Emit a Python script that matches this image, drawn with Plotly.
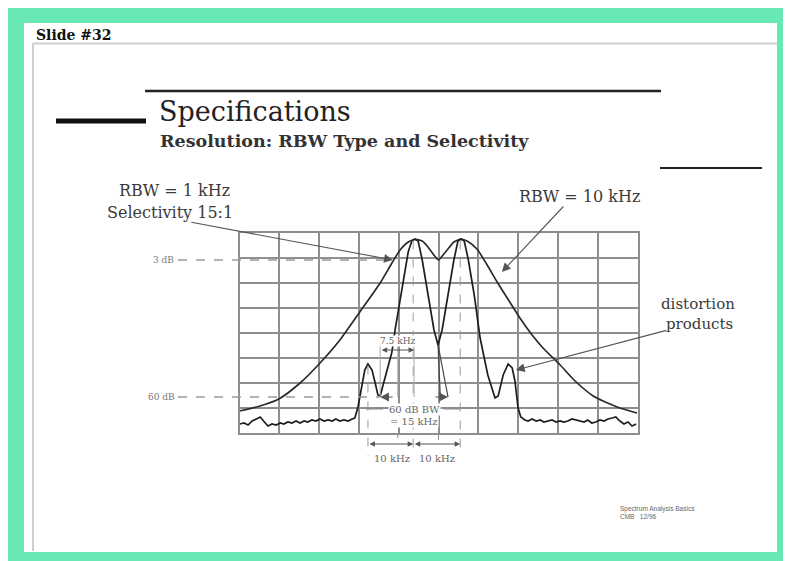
import plotly.graph_objects as go

# The page body adds an 8 px margin, so the figure is drawn 8 px in from the window edge.
OFF = 8
W, H = 791 - OFF, 561 - OFF
SERIF = "DejaVu Serif"

# ---------------- data (frequency offset in kHz, level in dB rel. reference) ----------------
XR = [-44, 44]
YR = [-80, 0]
GRID_DX = 8.8
GRID_DY = 10

# RBW = 10 kHz trace (two signals 10 kHz apart, barely resolved)
wide_khz = [-44.0, -39.5, -35.3, -30.6, -26.4, -21.8, -17.4, -12.9, -10.3, -8.5,
            -7.0, -5.2, -3.6, -2.5, -1.2, 0.0, 1.0, 2.1, 3.4, 5.0, 6.5, 8.5, 10.7, 12.9, 15.4,
            18.0, 20.7, 23.1, 26.9, 30.2, 34.2, 36.4, 40.1, 43.9]
wide_db = [-71.2, -69.2, -66.4, -60.0, -52.4, -42.8, -31.6, -20.0, -12.0, -6.8,
           -4.0, -2.5, -3.2, -5.2, -8.4, -10.8, -8.8, -6.4, -3.6, -2.4, -3.4, -6.4, -12.6, -19.4,
           -26.6, -34.0, -40.8, -46.0, -52.8, -59.2, -65.2, -67.2, -70.0, -72.0]

# RBW = 1 kHz trace: left noise floor, signals with distortion products, right noise floor
floor_left_khz = [-43.9, -43.0, -42.1, -41.2, -40.3, -39.4, -38.5, -37.7, -36.8, -35.9, -35.0,
                  -34.2, -33.3, -32.4, -31.5, -30.6, -29.7, -28.9, -28.0, -27.1, -26.2, -25.3,
                  -24.4, -23.5, -22.7, -21.8, -20.9, -20.0, -19.1]
floor_left_db = [-76.4, -76.0, -76.8, -75.2, -74.4, -73.6, -75.6, -77.2, -76.4, -76.8, -76.0,
                 -76.4, -75.6, -76.0, -75.2, -76.0, -75.2, -75.6, -74.8, -75.2, -74.4, -75.2,
                 -74.8, -75.2, -74.4, -75.2, -74.8, -75.2, -74.4]
signal_khz = [-18.5, -17.8, -17.4, -16.9, -16.3, -15.6, -14.7, -14.0, -13.4, -12.9, -11.8, -10.3,
              -9.6, -8.1, -6.7, -5.9, -5.2, -4.5, -3.6, -2.3, -1.0, -0.1, 0.8, 2.1, 3.4, 4.3, 5.0,
              5.7, 6.6, 7.9, 9.2, 10.9, 12.5, 13.2, 14.3, 15.4, 16.3, 16.9, 17.6, 18.2, 19.1]
signal_db = [-74.0, -69.6, -65.6, -61.6, -54.8, -52.4, -54.8, -60.0, -64.8, -65.2, -58.0, -47.6,
             -38.8, -22.8, -7.6, -3.2, -2.4, -3.2, -10.8, -24.8, -38.8, -44.8, -38.8, -24.8, -10.8,
             -3.2, -2.4, -3.2, -10.8, -24.8, -42.0, -56.8, -66.0, -65.2, -56.8, -52.4, -54.0,
             -59.2, -70.0, -73.6, -74.8]
floor_right_khz = [19.8, 20.7, 21.6, 22.5, 23.3, 24.2, 25.1, 26.0, 26.9, 27.7, 28.6, 29.5, 30.4,
                   31.3, 32.2, 33.0, 33.9, 34.8, 35.7, 36.6, 37.5, 38.4, 39.2, 40.1, 41.0, 41.9,
                   42.8, 43.7]
floor_right_db = [-75.2, -74.4, -75.2, -74.8, -75.6, -75.2, -74.8, -75.6, -75.2, -75.6, -75.2,
                  -74.4, -74.8, -75.2, -75.6, -74.8, -76.0, -75.6, -74.8, -75.2, -74.4, -74.0,
                  -73.6, -75.2, -76.4, -75.6, -77.2, -76.4]

narrow_khz = floor_left_khz + signal_khz + floor_right_khz
narrow_db = floor_left_db + signal_db + floor_right_db

# dimension / marker values (kHz, dB)
LEVEL_3DB = -10.8
LEVEL_60DB = -65.6
BW60_LEFT, BW60_RIGHT = -12.9, 2.1          # 60 dB BW = 15 kHz
BW3_LEFT, BW3_RIGHT = -12.9, -5.4           # 7.5 kHz
SIG_MARKS = [-15.6, -5.6, 4.8]              # 10 kHz spacing marks

# ---------------- geometry helpers ----------------
XD = [(239.5 - OFF) / W, (637.5 - OFF) / W]
YD = [1 - (433.0 - OFF) / H, 1 - (233.0 - OFF) / H]


def fx(v):
    return XD[0] + (v - XR[0]) / (XR[1] - XR[0]) * (XD[1] - XD[0])


def fy(v):
    return YD[0] + (v - YR[0]) / (YR[1] - YR[0]) * (YD[1] - YD[0])


def ppx(p):
    return (p - OFF) / W


def ppy(p):
    return 1 - (p - OFF) / H


def py2db(p):
    return YR[1] - (p - 233.0) / 200.0 * (YR[1] - YR[0])


fig = go.Figure()
fig.add_trace(go.Scatter(x=wide_khz, y=wide_db, mode="lines",
                         line=dict(color="#2a2a2a", width=1.7, shape="spline", smoothing=0.6),
                         hoverinfo="skip", showlegend=False))
fig.add_trace(go.Scatter(x=narrow_khz, y=narrow_db, mode="lines",
                         line=dict(color="#1e1e1e", width=1.7),
                         hoverinfo="skip", showlegend=False))

shapes = []
GREEN = "#67E8B4"
# slide frame
shapes.append(dict(type="rect", xref="paper", yref="paper", x0=0.0, x1=1.0, y0=0.0, y1=1.0,
                   fillcolor=GREEN, line=dict(width=0), layer="below"))
shapes.append(dict(type="rect", xref="paper", yref="paper", x0=ppx(24), x1=ppx(777), y0=ppy(552), y1=ppy(23),
                   fillcolor="white", line=dict(width=0), layer="below"))
shapes.append(dict(type="line", xref="paper", yref="paper", x0=ppx(33), x1=ppx(777), y0=ppy(43.5), y1=ppy(43.5),
                   line=dict(color="#d0d0d0", width=2)))
shapes.append(dict(type="line", xref="paper", yref="paper", x0=ppx(33), x1=ppx(33), y0=ppy(43), y1=ppy(551),
                   line=dict(color="#d0d0d0", width=2)))
# title rules
shapes.append(dict(type="line", xref="paper", yref="paper", x0=ppx(145), x1=ppx(661), y0=ppy(91), y1=ppy(91),
                   line=dict(color="#222", width=2.5)))
shapes.append(dict(type="line", xref="paper", yref="paper", x0=ppx(56), x1=ppx(146), y0=ppy(121), y1=ppy(121),
                   line=dict(color="#111", width=5)))
shapes.append(dict(type="line", xref="paper", yref="paper", x0=ppx(660), x1=ppx(762), y0=ppy(168), y1=ppy(168),
                   line=dict(color="#222", width=2)))

DASH_C = "#9a9a9a"
# 3 dB and 60 dB reference dashed lines
shapes.append(dict(type="line", xref="paper", yref="paper", x0=ppx(178), x1=fx(-10.3), y0=fy(LEVEL_3DB),
                   y1=fy(LEVEL_3DB), line=dict(color=DASH_C, width=1.3, dash="dash")))
shapes.append(dict(type="line", xref="paper", yref="paper", x0=ppx(178), x1=fx(BW60_LEFT), y0=fy(LEVEL_60DB),
                   y1=fy(LEVEL_60DB), line=dict(color=DASH_C, width=1.3, dash="dash")))
# vertical dashed marker lines
shapes.append(dict(type="line", xref="paper", yref="paper", x0=fx(SIG_MARKS[0]), x1=fx(SIG_MARKS[0]),
                   y0=fy(-53.0), y1=ppy(456), line=dict(color=DASH_C, width=1, dash="dash")))
shapes.append(dict(type="line", xref="paper", yref="paper", x0=fx(SIG_MARKS[1]), x1=fx(SIG_MARKS[1]),
                   y0=fy(-3.0), y1=ppy(456), line=dict(color=DASH_C, width=1, dash="dash")))
shapes.append(dict(type="line", xref="paper", yref="paper", x0=fx(SIG_MARKS[2]), x1=fx(SIG_MARKS[2]),
                   y0=fy(-3.0), y1=ppy(456), line=dict(color=DASH_C, width=1, dash="dash")))
shapes.append(dict(type="line", xref="paper", yref="paper", x0=fx(0.0), x1=fx(0.0),
                   y0=fy(-45.0), y1=ppy(440), line=dict(color=DASH_C, width=1, dash="dash")))
# 7.5 kHz extension lines
for xv in (BW3_LEFT, BW3_RIGHT, -9.0):
    shapes.append(dict(type="line", xref="paper", yref="paper", x0=fx(xv), x1=fx(xv),
                       y0=fy(-44.0), y1=fy(LEVEL_60DB), line=dict(color="#aaaaaa", width=1)))
# hidden skirts down to the 60 dB level
shapes.append(dict(type="line", xref="paper", yref="paper", x0=fx(-0.1), x1=fx(0.4),
                   y0=fy(-44.8), y1=fy(LEVEL_60DB), line=dict(color="#444", width=1.2)))
shapes.append(dict(type="line", xref="paper", yref="paper", x0=fx(-0.1), x1=fx(BW60_RIGHT),
                   y0=fy(-44.8), y1=fy(LEVEL_60DB), line=dict(color="#444", width=1.2)))
# 60 dB BW text line
shapes.append(dict(type="line", xref="paper", yref="paper", x0=ppx(366), x1=ppx(383), y0=ppy(409), y1=ppy(409),
                   line=dict(color="#888", width=1)))
shapes.append(dict(type="line", xref="paper", yref="paper", x0=ppx(444), x1=ppx(460), y0=ppy(409), y1=ppy(409),
                   line=dict(color="#888", width=1)))
# small ticks under grid
for xv in (-9.0, 0.0):
    shapes.append(dict(type="line", xref="paper", yref="paper", x0=fx(xv), x1=fx(xv), y0=ppy(433), y1=ppy(438),
                       line=dict(color="#888", width=1)))

ann = []


def text(s, x, y, size, xanchor="left", color="#3a3a3a", bold=False, family=SERIF, bg=None):
    d = dict(text=("<b>%s</b>" % s) if bold else s, x=ppx(x), y=ppy(y), xref="paper", yref="paper",
             xanchor=xanchor, yanchor="middle", showarrow=False,
             font=dict(family=family, size=size, color=color))
    if bg:
        d["bgcolor"] = bg
        d["borderpad"] = 0
    ann.append(d)


text("Slide #32", 34, 35, 14, bold=True, color="#111")
text("Specifications", 157, 112, 27, color="#222")
text("Resolution: RBW Type and Selectivity", 158, 141, 17.5, bold=True, color="#333")
text("RBW = 1 kHz", 174, 190, 16, xanchor="center")
text("Selectivity 15:1", 170, 212, 16, xanchor="center")
text("RBW = 10 kHz", 579, 196, 16, xanchor="center")
text("distortion", 698, 304, 15, xanchor="center")
text("products", 699, 324, 15, xanchor="center")
text("3 dB", 176, 260, 9, xanchor="right", color="#777")
text("60 dB", 177, 397, 9, xanchor="right", color="#777")
text("7.5 kHz", 397, 341, 9, xanchor="center", color="#666", bg="white")
text("60 dB BW", 414, 409, 10, xanchor="center", color="#666", bg="white")
text("= 15 kHz", 414, 421, 10, xanchor="center", color="#666", bg="white")
text("10 kHz", 392, 458, 10, xanchor="center", color="#666")
text("10 kHz", 437, 458, 10, xanchor="center", color="#666")
text("Spectrum Analysis Basics", 618, 509, 6.5, color="#666", family="Liberation Sans")
text("CMB&nbsp;&nbsp;&nbsp;12/96", 618, 516, 6.5, color="#666", family="Liberation Sans")

ARROW_C = "#555"


def arrow(xv, yv, ax, ay, head=2, size=1.3, side="end"):
    ann.append(dict(x=fx(xv), y=fy(yv), xref="paper", yref="paper", ax=ax, ay=ay, axref="pixel",
                    ayref="pixel", text="", showarrow=True, arrowhead=head, arrowsize=size,
                    arrowwidth=1.1, arrowcolor=ARROW_C, arrowside=side, startarrowhead=head,
                    startarrowsize=size))


# callout arrows
arrow(-10.1, LEVEL_3DB, -203, -38, size=1.6)
arrow(14.0, py2db(272), 63, -67, size=1.6)
arrow(17.1, py2db(370), 152, -40, size=1.6)
# 7.5 kHz dimension
x_px_span = (fx(BW3_RIGHT) - fx(BW3_LEFT)) * W
arrow(BW3_RIGHT, -46.8, -x_px_span, 0, size=1.0, side="end+start")
# 60 dB BW heads
arrow(BW60_LEFT, LEVEL_60DB, 14, 0, size=1.6)
arrow(BW60_RIGHT, LEVEL_60DB, -14, 0, size=1.6)
# 10 kHz dimensions below the grid
for a, b in ((SIG_MARKS[0], SIG_MARKS[1]), (SIG_MARKS[1], SIG_MARKS[2])):
    span = (fx(b) - fx(a)) * W
    ann.append(dict(x=fx(b), y=ppy(444), xref="paper", yref="paper", ax=-span, ay=0, axref="pixel",
                    ayref="pixel", text="", showarrow=True, arrowhead=2, arrowsize=1.0, arrowwidth=1.1,
                    arrowcolor=ARROW_C, arrowside="end+start", startarrowhead=2, startarrowsize=1.0))

GRID_C = "#8e8e8e"
fig.update_layout(
    width=W, height=H, margin=dict(l=0, r=0, t=0, b=0),
    paper_bgcolor="white", plot_bgcolor="rgba(0,0,0,0)",
    xaxis=dict(domain=XD, range=XR, tick0=XR[0], dtick=GRID_DX, showgrid=True, gridcolor=GRID_C,
               gridwidth=2, showline=True, linecolor=GRID_C, linewidth=2, mirror=True,
               showticklabels=False, ticks="", zeroline=False, fixedrange=True),
    yaxis=dict(domain=YD, range=YR, tick0=YR[0], dtick=GRID_DY, showgrid=True, gridcolor=GRID_C,
               gridwidth=2, showline=True, linecolor=GRID_C, linewidth=2, mirror=True,
               showticklabels=False, ticks="", zeroline=False, fixedrange=True),
    shapes=shapes, annotations=ann, showlegend=False,
)

fig.write_html("out.html")
